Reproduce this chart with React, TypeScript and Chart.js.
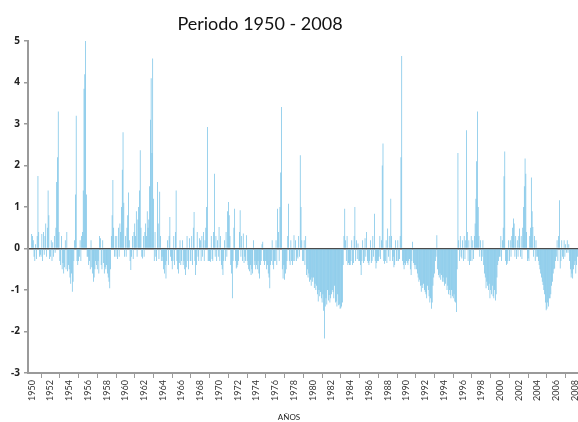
import React, { useEffect, useRef } from 'react';
import { Chart, registerables } from 'chart.js';

Chart.register(...registerables);

const startYear = 1950;

const spi1950s = [
  0.35, 0.3, 0.2, -0.2, -0.3, 0.1, -0.25, 0.3, 1.75, 0.4, -0.2, -0.15,
  -0.2, 0.35, -0.3, 0.4, -0.15, 0.3, 0.6, -0.2, 0.5, 1.4, 0.8, -0.25,
  -0.2, 0.2, -0.3, 0.15, -0.2, 0.3, -0.1, 0.5, 1.6, 2.2, 3.3, 0.4,
  -0.3, -0.4, 0.3, -0.5, -0.35, -0.6, -0.45, 0.2, -0.5, 0.4, -0.55, -0.4,
  -0.5, -0.7, -0.85, -0.6, -1.04, -0.8, -0.3, 0.2, 1.3, 3.2, -0.3, -0.4,
  -0.3, -0.2, 0.2, -0.3, 0.3, 0.4, 1.4, 3.85, 4.2, 5.0, 1.3, -0.2,
  -0.2, -0.4, -0.3, -0.5, 0.2, -0.45, -0.6, -0.8, -0.7, -0.5, -0.3, -0.4,
  -0.5, -0.3, -0.6, 0.3, 0.25, -0.4, -0.5, 0.2, -0.35, -0.6, -0.45, -0.5,
  -0.4, -0.6, -0.7, -0.8, -0.96, -0.5, 0.3, 0.8, 1.65, 0.5, -0.2, 0.3,
  -0.2, 0.3, -0.25, 0.5, -0.2, 0.6, 0.4, 1.0, 1.9, 2.8, 1.1, -0.2,
];

const spi1960s = [
  0.3, -0.2, 0.5, 0.8, 1.35, 0.2, -0.3, -0.52, -0.2, 0.3, -0.25, 0.4,
  0.6, 0.3, 0.9, -0.2, 0.7, 1.0, 1.4, 2.37, 0.5, -0.2, -0.24, 0.3,
  -0.2, 0.4, 0.6, 0.3, 0.9, 0.5, 0.7, 1.5, 3.1, 4.1, 2.3, 4.58,
  1.2, -0.3, 0.4, -0.2, -0.3, 1.6, 0.6, -0.25, 1.37, 0.3, -0.3, -0.2,
  -0.3, -0.5, -0.6, -0.4, -0.72, -0.3, 0.2, -0.4, 0.3, 0.76, -0.2, -0.3,
  -0.5, -0.3, 0.3, -0.4, 0.4, 1.4, -0.3, -0.5, -0.6, -0.35, 0.2, -0.4,
  -0.3, 0.2, -0.4, -0.3, -0.5, -0.64, -0.45, 0.3, -0.3, -0.5, 0.25, -0.3,
  -0.3, 0.3, -0.4, 0.5, 0.88, -0.3, -0.64, -0.4, 0.4, -0.2, -0.3, 0.25,
  0.2, -0.3, 0.3, -0.2, 0.4, -0.3, 0.2, 0.5, 1.0, 2.93, -0.3, -0.3,
  -0.3, -0.32, 0.3, -0.25, -0.3, 0.4, 1.8, -0.2, 0.3, -0.3, 0.2, -0.2,
];

const spi1970s = [
  0.52, -0.3, 0.3, -0.4, -0.5, -0.64, -0.3, 0.2, -0.3, 0.4, -0.2, 0.9,
  1.12, 0.8, 0.3, -0.4, -0.6, -1.2, -0.3, 0.5, 0.96, -0.3, -0.48, -0.45,
  -0.4, -0.3, 0.4, 0.92, -0.2, 0.3, -0.3, 0.36, -0.35, -0.2, -0.3, 0.32,
  -0.3, -0.4, -0.5, -0.55, -0.4, -0.64, -0.5, -0.6, 0.2, -0.4, -0.3, -0.5,
  -0.4, -0.5, -0.3, -0.6, -0.72, -0.4, -0.3, 0.1, 0.16, -0.3, -0.4, -0.3,
  -0.3, -0.5, -0.4, -0.6, -0.7, -0.96, -0.4, -0.3, 0.2, -0.4, -0.5, -0.3,
  -0.3, 0.2, -0.4, 0.96, 0.4, -0.3, 1.0, 1.83, 3.41, -0.5, -0.72, -0.4,
  -0.75, -0.6, -0.5, -0.3, 0.3, 1.08, -0.3, -0.4, 0.2, -0.3, -0.4, -0.3,
  0.32, -0.3, 0.2, -0.3, -0.2, -0.24, 0.3, -0.2, 2.25, 1.0, 0.2, -0.3,
  -0.3, 0.2, -0.4, 0.3, -0.64, -0.5, -0.7, -0.6, -0.8, -0.75, -0.9, -0.7,
];

const spi1980s = [
  -0.8, -0.7, -0.95, -0.85, -1.0, -0.9, -1.1, -1.28, -1.0, -1.15, -1.05, -1.2,
  -1.3, -1.1, -1.5, -2.17, -1.4, -1.2, -1.35, -1.0, -1.25, -1.12, -1.3, -1.2,
  -1.1, -1.0, -1.05, -1.2, -0.9, -1.3, -1.28, -1.4, -1.1, -1.37, -1.35, -1.45,
  -1.44, -1.4, -1.3, -0.4, 0.3, 0.96, 0.2, -0.3, 0.3, -0.4, -0.35, -0.4,
  -0.4, -0.3, 0.2, -0.4, -0.35, 0.3, 1.0, -0.3, 0.2, -0.25, 0.12, -0.3,
  -0.3, -0.4, -0.64, -0.3, 0.2, -0.35, -0.3, 0.25, -0.2, 0.4, -0.3, -0.35,
  -0.4, -0.3, 0.2, -0.35, -0.3, 0.3, -0.2, 0.84, -0.3, -0.48, -0.35, -0.3,
  -0.3, -0.2, 0.3, -0.25, 0.2, 2.0, 2.53, -0.3, -0.37, -0.3, 0.2, -0.35,
  0.48, -0.2, 0.3, -0.3, 1.2, 0.3, -0.3, -0.2, -0.45, -0.4, 0.2, -0.3,
  -0.3, 0.2, -0.3, -0.25, 0.3, 2.2, 4.64, -0.3, -0.4, -0.5, -0.35, -0.4,
];

const spi1990s = [
  -0.3, -0.35, -0.4, -0.3, -0.25, -0.5, -0.64, -0.3, 0.16, -0.35, -0.4, -0.5,
  -0.4, -0.5, -0.6, -0.7, -0.8, -0.75, -0.9, -1.04, -0.88, -0.95, -0.85, -1.0,
  -1.05, -1.1, -1.2, -0.9, -1.0, -1.15, -1.3, -1.2, -1.45, -1.3, -0.9, -0.7,
  -0.6, -0.3, -0.2, 0.32, -0.5, -0.64, -0.7, -0.6, -0.75, -0.64, -0.8, -0.7,
  -0.8, -0.9, -0.85, -0.7, -1.0, -0.9, -1.1, -1.0, -1.12, -1.2, -1.0, -1.15,
  -1.2, -1.1, -1.28, -1.3, -1.53, -0.5, 2.3, 0.2, -0.3, 0.3, -0.2, -0.24,
  0.2, -0.3, 0.3, -0.25, 0.2, 2.85, 0.4, -0.3, 0.2, -0.4, -0.3, 0.3,
  -0.3, 0.2, -0.25, 0.3, 0.6, 1.2, 2.1, 3.3, 1.0, 0.3, -0.2, 0.2,
  -0.3, -0.2, 0.2, -0.4, -0.6, -0.7, -0.96, -0.8, -0.9, -1.0, -0.85, -1.2,
  -1.0, -1.1, -0.9, -1.15, -1.2, -1.0, -1.25, -1.1, -0.7, -0.4, -0.3, -0.2,
];

const spi2000s = [
  -0.2, 0.3, -0.3, 0.2, 0.5, 1.74, 2.34, -0.3, -0.4, -0.37, -0.3, 0.2,
  -0.3, 0.2, -0.2, 0.3, 0.5, 0.72, 0.6, -0.2, 0.3, -0.25, 0.2, -0.2,
  0.3, 0.48, -0.2, 0.3, -0.25, 0.5, 1.0, 1.5, 2.17, 1.8, 0.4, -0.3,
  -0.24, -0.3, 0.3, 0.5, 1.71, 0.9, 0.52, -0.2, 0.3, -0.3, 0.2, -0.2,
  -0.2, -0.3, -0.4, -0.5, -0.6, -0.7, -0.8, -0.88, -1.0, -1.1, -1.3, -1.49,
  -1.45, -1.3, -1.4, -1.2, -1.2, -1.1, -0.9, -0.8, -0.6, -0.5, -0.48, -0.3,
  -0.2, 0.2, -0.3, 0.3, 1.16, -0.48, -0.3, 0.2, -0.2, -0.25, 0.2, -0.2,
  0.1, -0.1, 0.2, -0.1, 0.1, -0.3, -0.5, -0.7, -0.6, -0.72, -0.5, -0.4,
  -0.3, -0.6, -0.4, -0.2,
];

const tickYears = [
  1950, 1952, 1954, 1956, 1958, 1960, 1962, 1964, 1966, 1968,
  1970, 1972, 1974, 1976, 1978, 1980, 1982, 1984, 1986, 1988,
  1990, 1992, 1994, 1996, 1998, 2000, 2002, 2004, 2006, 2008,
];

const titleText = 'Periodo 1950 - 2008';
const xAxisTitle = 'AÑOS';

const allValues = [...spi1950s, ...spi1960s, ...spi1970s, ...spi1980s, ...spi1990s, ...spi2000s];
const points = allValues.map((v, i) => ({ x: startYear + i / 12, y: v }));

export default function App() {
  const ref = useRef<HTMLCanvasElement>(null);

  useEffect(() => {
    const canvas = ref.current;
    if (!canvas) return;
    const chart = new Chart(canvas, {
      type: 'bar',
      data: {
        datasets: [
          {
            data: points as any,
            backgroundColor: 'rgb(112,191,229)',
            borderWidth: 0,
            barPercentage: 0.9,
            categoryPercentage: 1,
          },
        ],
      },
      options: {
        animation: false,
        responsive: false,
        maintainAspectRatio: false,
        layout: { padding: { top: 41, right: 20, bottom: 0, left: 0 } },
        plugins: {
          legend: { display: false },
          tooltip: { enabled: false },
          title: { display: false },
        },
        scales: {
          x: {
            type: 'linear',
            bounds: 'data',
            min: 1949.605,
            max: 2008.53,
            offset: false,
            afterBuildTicks: (scale: any) => {
              scale.ticks = tickYears.map((v) => ({ value: v }));
            },
            afterFit: (scale: any) => {
              scale.height = 49;
            },
            ticks: {
              autoSkip: false,
              minRotation: 90,
              maxRotation: 90,
              padding: 2,
              color: '#333',
              font: { family: 'Lato', size: 9 },
              callback: (v: any) => String(v),
            },
            grid: {
              display: true,
              drawOnChartArea: false,
              drawTicks: true,
              tickLength: 5,
              tickColor: '#9a9a9a',
              tickWidth: 1,
            },
            border: { display: true, color: '#9a9a9a', width: 2 },
          },
          y: {
            min: -3,
            max: 5,
            z: 1,
            afterFit: (scale: any) => {
              scale.width = 28;
            },
            ticks: {
              stepSize: 1,
              padding: 4,
              color: '#222',
              font: { family: 'Open Sans', size: 10, weight: 'bold' },
            },
            grid: {
              color: (ctx: any) => (ctx.tick && ctx.tick.value === 0 ? '#4a4a4a' : 'rgba(0,0,0,0)'),
              lineWidth: 1.5,
              drawTicks: true,
              tickLength: 4,
              tickColor: '#9a9a9a',
            },
            border: { display: true, color: '#9a9a9a', width: 2 },
          },
        },
      },
    });
    return () => chart.destroy();
  }, []);

  return (
    <div
      style={{
        position: 'fixed',
        left: 0,
        top: 0,
        width: 578,
        height: 422,
        overflow: 'hidden',
        background: '#fff',
      }}
    >
      <canvas ref={ref} width={600} height={422} style={{ display: 'block', width: 600, height: 422 }} />
      <div
        style={{
          position: 'absolute',
          left: 0,
          top: 14,
          width: 520,
          textAlign: 'center',
          fontFamily: 'Lato',
          fontSize: 18,
          lineHeight: '18px',
          color: '#111',
          whiteSpace: 'nowrap',
        }}
      >
        {titleText}
      </div>
      <div
        style={{
          position: 'absolute',
          left: 0,
          top: 413,
          width: 578,
          textAlign: 'center',
          fontFamily: 'Lato',
          fontSize: 8,
          lineHeight: '8px',
          color: '#222',
        }}
      >
        {xAxisTitle}
      </div>
    </div>
  );
}
